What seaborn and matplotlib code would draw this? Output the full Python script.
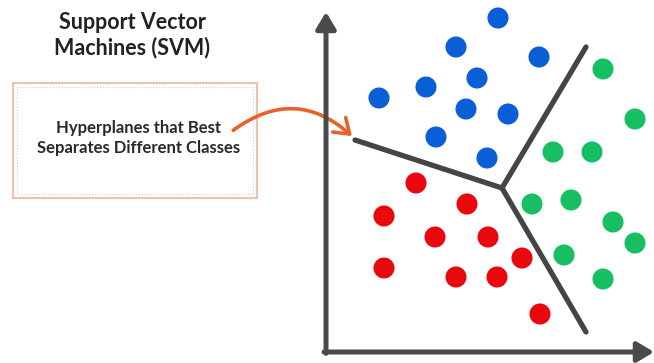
import matplotlib
matplotlib.use('Agg')
import matplotlib.pyplot as plt
import matplotlib.patches as mpatches
import pandas as pd
import seaborn as sns

# feature values (origin at the axes corner)
blue_x = [172, 130, 213, 151, 100, 53, 140, 182, 110, 161]
blue_y = [334, 305, 295, 274, 265, 254, 243, 238, 215, 194]
green_x = [277, 309, 227, 266, 206, 245, 287, 309, 238, 277]
green_y = [283, 233, 200, 200, 148, 152, 130, 109, 97, 73]
red_x = [90, 141, 58, 109, 162, 196, 58, 130, 171, 214]
red_y = [169, 148, 136, 115, 115, 94, 84, 75, 75, 38]

# the three hyperplane arms meet at one point
center = (176, 164)
arm_ends = [(29, 212), (260, 305), (260, 20)]

df = pd.DataFrame({
    'x1': blue_x + green_x + red_x,
    'x2': blue_y + green_y + red_y,
    'cls': ['blue'] * len(blue_x) + ['green'] * len(green_x) + ['red'] * len(red_x),
})
palette = {'blue': '#0b5fd6', 'green': '#16c062', 'red': '#e8080e'}

sns.set_style('white')
plt.rcParams['font.family'] = ['Lato', 'DejaVu Sans']

fig = plt.figure(figsize=(6.54, 3.63), dpi=100)

# background axes in pixel units for the title, note box and arrow
bg = fig.add_axes([0, 0, 1, 1])
bg.set_xlim(0, 654)
bg.set_ylim(363, 0)
bg.axis('off')

bg.text(132, 35, 'Support Vector\nMachines (SVM)', ha='center', va='center',
        fontsize=15.5, fontweight='bold', color='#222222', linespacing=1.2)

bg.add_patch(mpatches.Rectangle((13, 83), 244, 115, fill=False,
                                edgecolor='#ebc3b3', lw=1.6))
bg.add_patch(mpatches.Rectangle((17, 87), 236, 107, fill=False,
                                edgecolor='#dccac3', lw=0.8, ls=':'))
bg.text(139, 138, 'Hyperplanes that Best\nSeparates Different Classes',
        ha='center', va='center', fontsize=12, fontweight='bold',
        color='#2a2a2a', linespacing=1.3)

bg.annotate('', xy=(354, 138), xytext=(231, 132),
            arrowprops=dict(arrowstyle='->,head_length=0.5,head_width=0.35',
                            color='#e8602a', lw=2.6,
                            connectionstyle='arc3,rad=-0.42',
                            mutation_scale=20))

# scatter axes
ax = fig.add_axes([326 / 654, 11 / 363, 328 / 654, 352 / 363])
ax.set_xlim(0, 328)
ax.set_ylim(0, 352)
ax.axis('off')
ax.patch.set_alpha(0)

for end in arm_ends:
    ax.plot([center[0], end[0]], [center[1], end[1]], color='#454545',
            lw=3.8, solid_capstyle='round', zorder=2)

sns.scatterplot(data=df, x='x1', y='x2', hue='cls', palette=palette,
                s=230, edgecolor='none', legend=False, ax=ax, zorder=3)

arrow_kw = dict(arrowstyle='-|>,head_length=1.0,head_width=0.6',
                color='#4a4a4a', lw=3.6, shrinkA=0, shrinkB=0)
ax.annotate('', xy=(0, 0.966), xytext=(0, -0.004), xycoords='axes fraction',
            arrowprops=arrow_kw, annotation_clip=False)
ax.annotate('', xy=(1.0, 0), xytext=(-0.006, 0), xycoords='axes fraction',
            arrowprops=arrow_kw, annotation_clip=False)

fig.savefig('out.png', dpi=100)
